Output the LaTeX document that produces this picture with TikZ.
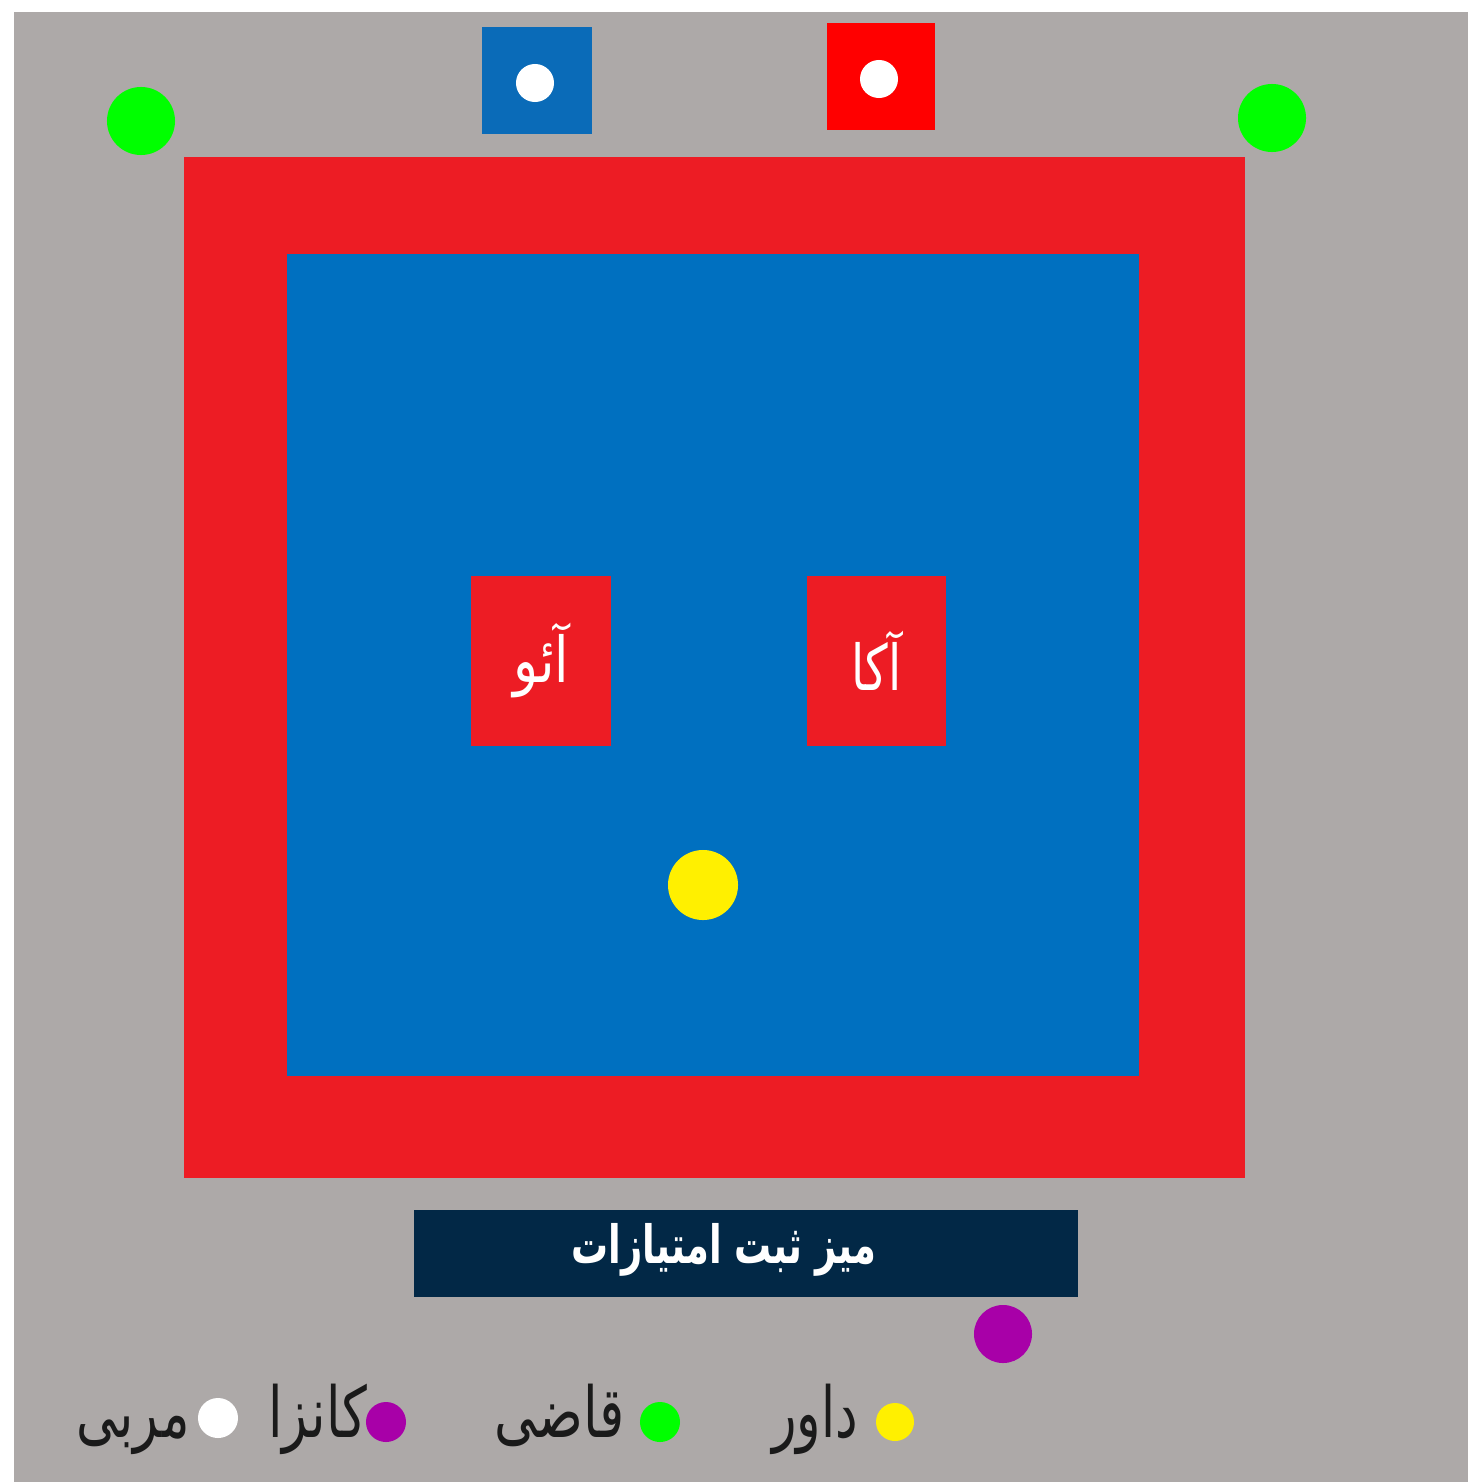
\documentclass[tikz,border=0pt]{standalone}
\usepackage{graphicx}
\usepackage{fontspec}
\newfontfamily\arabicfont[Script=Arabic]{DejaVu Sans}
\TeXXeTstate=1
\usetikzlibrary{positioning}
\definecolor{matgray}{HTML}{ADA9A8}
\definecolor{matred}{HTML}{ED1C24}
\definecolor{matblue}{HTML}{0070C0}
\definecolor{tblnavy}{HTML}{022846}
\definecolor{jgreen}{HTML}{00FF00}
\definecolor{ryellow}{HTML}{FFF000}
\definecolor{kpurple}{HTML}{A800A8}
\definecolor{cred}{HTML}{FF0000}
\definecolor{cblue}{HTML}{0A6BB8}
\definecolor{legink}{HTML}{1A1A1A}
% condensed arabic-script text
\newcommand{\fatext}[2]{\scalebox{#1}[1]{\arabicfont #2}}
\tikzset{
  disc/.style={circle, inner sep=0pt, minimum size=#1},
  zone/.style={rectangle, inner sep=0pt, text=white},
  legtext/.style={font=\fontsize{20}{22}\selectfont, text=legink, inner sep=1pt, anchor=base east},
}

\begin{document}
\begin{tikzpicture}[x=0.01cm, y=-0.01cm]
    \useasboundingbox (0,0) rectangle (1468,1482);
    \fill[white] (0,0) rectangle (1468,1482);
    \fill[matgray] (14,12) rectangle (1468,1482);
    % mat
    \node[zone, fill=matred, minimum width=10.61cm, minimum height=10.21cm] (outer) at (714.5,667.5) {};
    \node[zone, fill=matblue, minimum width=8.52cm, minimum height=8.22cm] (inner) at (713,665) {};
    \node[zone, fill=matred, minimum width=1.40cm, minimum height=1.70cm,
      font=\fontsize{18}{20}\selectfont] (ao) at (541,661) {\fatext{0.82}{\beginR آئو\endR}};
    \node[zone, fill=matred, minimum width=1.39cm, minimum height=1.70cm,
      font=\fontsize{18}{20}\selectfont] (aka) at (876.5,661) {\fatext{0.75}{\beginR آکا\endR}};
    \node[disc=0.70cm, fill=ryellow] (referee) at (703,885) {};
    % judges and coaches
    \node[disc=0.68cm, fill=jgreen] (judgeL) at (141,121) {};
    \node[disc=0.68cm, fill=jgreen] (judgeR) at (1272,118) {};
    \node[zone, fill=cblue, minimum width=1.10cm, minimum height=1.07cm] (chairB) at (537,80.5) {};
    \node[disc=0.38cm, fill=white] (coachB) at (535,83) {};
    \node[zone, fill=cred, minimum width=1.08cm, minimum height=1.07cm] (chairR) at (881,76.5) {};
    \node[disc=0.38cm, fill=white] (coachR) at (879,79) {};
    % score table
    \node[zone, fill=tblnavy, minimum width=6.64cm, minimum height=0.87cm] (table) at (746,1253.5) {};
    \node[zone, font=\fontsize{15}{17}\selectfont\bfseries] (tabletxt) at (724,1250)
      {\fatext{0.70}{\beginR میز ثبت امتیازات\endR}};
    \node[disc=0.58cm, fill=kpurple] (kansa) at (1003,1334) {};
    % legend
    \node[disc=0.38cm, fill=ryellow] (lgref) at (895,1422) {};
    \node[legtext] (lgreftxt) at (862,1437) {\fatext{0.72}{\beginR داور\endR}};
    \node[disc=0.40cm, fill=jgreen] (lgjudge) at (660,1422) {};
    \node[legtext] (lgjudgetxt) at (629,1437) {\fatext{0.75}{\beginR قاضی\endR}};
    \node[disc=0.40cm, fill=kpurple] (lgkansa) at (386,1422) {};
    \node[legtext] (lgkansatxt) at (371,1437) {\fatext{0.74}{\beginR کانزا\endR}};
    \node[disc=0.40cm, fill=white] (lgcoach) at (218,1418) {};
    \node[legtext] (lgcoachtxt) at (194,1437) {\fatext{0.73}{\beginR مربی\endR}};
\end{tikzpicture}
\end{document}
